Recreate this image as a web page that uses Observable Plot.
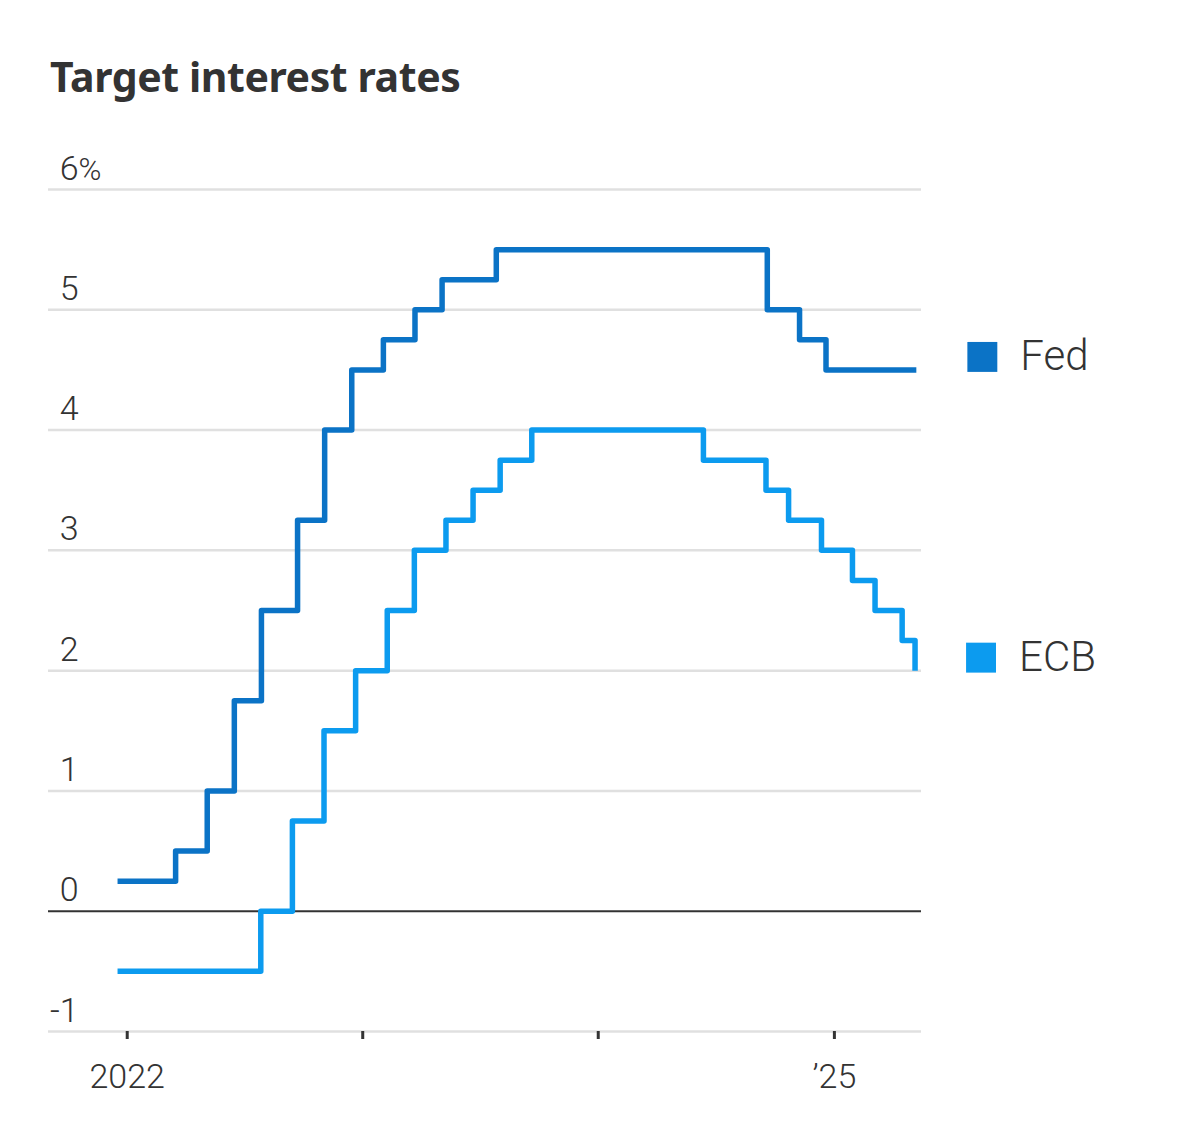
<!DOCTYPE html>
<html>
<head>
<meta charset="utf-8">
<script src="https://cdn.jsdelivr.net/npm/d3@7"></script>
<script src="https://cdn.jsdelivr.net/npm/@observablehq/plot@0.6"></script>
<style>
  html, body { margin: 0; padding: 0; background: #fff; }
  #wrap { width: 1200px; }
  #head { position: relative; height: 130px; }
  #title { position: absolute; left: 50px; top: 56px; font-family: "Noto Sans", sans-serif; font-weight: 700; font-size: 41px; line-height: 1; color: #333; letter-spacing: -0.4px; }
</style>
</head>
<body>
<div id="wrap">
  <div id="head"><div id="title">Target interest rates</div></div>
  <div id="chart"></div>
</div>
<script>
// ---- data ----
const fedDates = ["2021-12-17","2022-03-17","2022-05-05","2022-06-16","2022-07-28","2022-09-22","2022-11-03","2022-12-15","2023-02-02","2023-03-23","2023-05-04","2023-07-27","2024-09-19","2024-11-08","2024-12-19","2025-05-08"];
const fedRates = [0.25,0.5,1.0,1.75,2.5,3.25,4.0,4.5,4.75,5.0,5.25,5.5,5.0,4.75,4.5,4.5];

const ecbDates = ["2021-12-17","2022-07-27","2022-09-14","2022-11-02","2022-12-21","2023-02-08","2023-03-22","2023-05-10","2023-06-21","2023-08-02","2023-09-20","2024-06-12","2024-09-17","2024-10-22","2024-12-12","2025-01-29","2025-03-05","2025-04-16","2025-05-06"];
const ecbRates = [-0.5,0,0.75,1.5,2.0,2.5,3.0,3.25,3.5,3.75,4.0,3.75,3.5,3.25,3.0,2.75,2.5,2.25,2.0];

const seriesNames = ["Fed", "ECB"];
const seriesColors = ["#0b73c6", "#0c9bef"];

const yTicks = [-1, 0, 1, 2, 3, 4, 5, 6];
const yTickLabels = ["-1", "0", "1", "2", "3", "4", "5", "6"];
const xTickDates = ["2022-01-01", "2023-01-01", "2024-01-01", "2025-01-01"];
const xTickLabels = ["2022", "", "", "\u201925"];
const xDomain = ["2021-09-01", "2025-05-16"];

// ---- build ----
const fed = fedDates.map((d, i) => ({date: new Date(d), rate: fedRates[i], name: "Fed"}));
const ecb = ecbDates.map((d, i) => ({date: new Date(d), rate: ecbRates[i], name: "ECB"}));
const all = fed.concat(ecb);
const lastPts = [fed[fed.length - 1], ecb[ecb.length - 1]];
const xTicks = xTickDates.map(d => new Date(d));
const labelFont = "Roboto, 'Noto Sans', sans-serif";

const chart = Plot.plot({
  width: 1200,
  height: 993,
  marginTop: 59,
  marginBottom: 92,
  marginLeft: 48,
  marginRight: 279,
  style: {fontFamily: labelFont, color: "#333", background: "#fff"},
  x: {type: "utc", domain: xDomain.map(d => new Date(d)), axis: null},
  y: {domain: [-1, 6], axis: null},
  color: {domain: seriesNames, range: seriesColors},
  marks: [
    Plot.ruleY(yTicks.filter(v => v !== 0), {stroke: "#e0e0e0", strokeWidth: 2.5}),
    Plot.ruleY([0], {stroke: "#333", strokeWidth: 2}),
    Plot.text(yTicks, {y: d => d, text: (d, i) => yTickLabels[i], frameAnchor: "left", textAnchor: "end", dx: 30, dy: -10, lineAnchor: "bottom", fontSize: 34, fontWeight: 300, fill: "#333"}),
    Plot.text([6], {y: d => d, text: () => "%", frameAnchor: "left", textAnchor: "start", dx: 30, dy: -10, lineAnchor: "bottom", fontSize: 31, fontWeight: 300, fill: "#333"}),
    Plot.axisX({ticks: xTicks, tickFormat: (d, i) => xTickLabels[i], tickSize: 8, tickPadding: 24, stroke: "#333", strokeWidth: 3, fontSize: 34, fontWeight: 300, fill: "#333", anchor: "bottom"}),
    Plot.line(all, {x: "date", y: "rate", z: "name", stroke: "name", curve: "step-after", strokeWidth: 5.5, strokeLinejoin: "round", strokeLinecap: "butt"}),
    Plot.dot(lastPts, {x: "date", y: "rate", fill: "name", symbol: "square", r: 16.9, dx: 66, dy: -13, stroke: null}),
    Plot.text(lastPts, {x: "date", y: "rate", text: "name", dx: 104, dy: -13, textAnchor: "start", lineAnchor: "middle", fontSize: 42, fontWeight: 300, fill: "#333"})
  ]
});
document.getElementById("chart").appendChild(chart);
</script>
</body>
</html>
